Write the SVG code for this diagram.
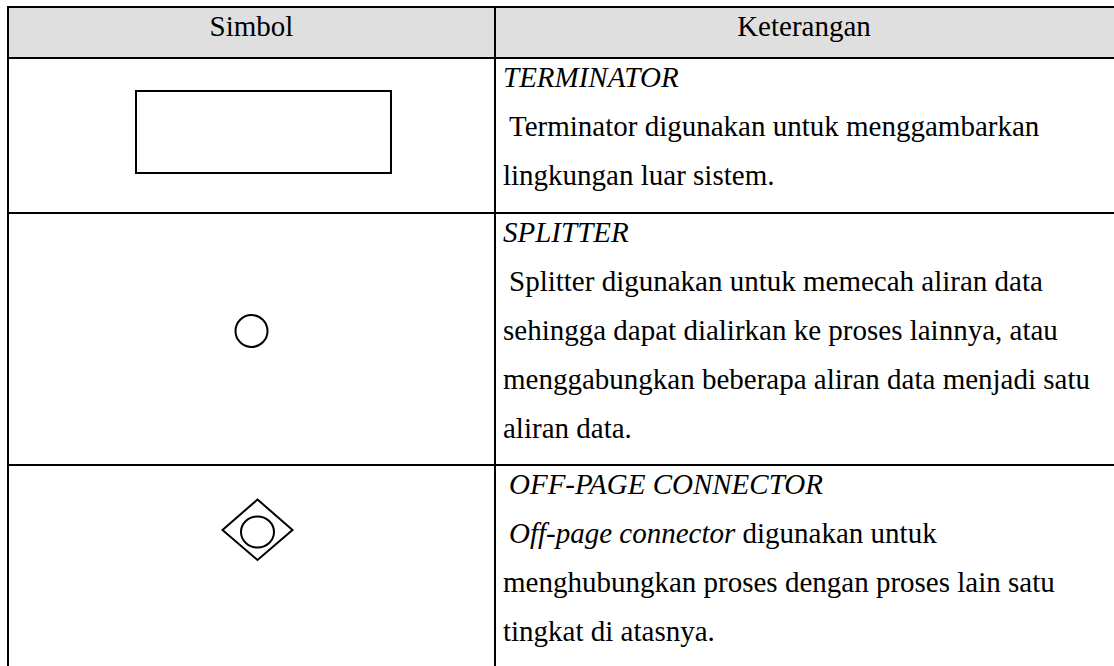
<svg xmlns="http://www.w3.org/2000/svg" width="1114" height="666" viewBox="0 0 1114 666">
<style>
.t{font-family:'Liberation Serif','Times New Roman',serif;font-size:29px;fill:#000}
.i{font-style:italic}
.g{stroke:#000;stroke-width:2;fill:none}
.s{stroke:#000;stroke-width:2;fill:none}
</style>
<rect x="0" y="0" width="1114" height="666" fill="#fff"/>
<g id="grid">
<rect x="8" y="7" width="1110" height="51" fill="#dfdfdf"/>
<line class="g" x1="7" y1="7" x2="1114" y2="7"/>
<line class="g" x1="7" y1="58" x2="1114" y2="58"/>
<line class="g" x1="7" y1="213" x2="1114" y2="213"/>
<line class="g" x1="7" y1="465" x2="1114" y2="465"/>
<line class="g" x1="8" y1="6" x2="8" y2="666"/>
<line class="g" x1="495" y1="6" x2="495" y2="666"/>
</g>
<g id="header">
<text class="t" x="251.5" y="36" text-anchor="middle">Simbol</text>
<text class="t" x="804" y="36" text-anchor="middle">Keterangan</text>
</g>
<g id="terminator">
<rect class="s" x="136" y="91" width="255" height="82"/>
<text class="t i" x="503" y="87">TERMINATOR</text>
<text class="t" x="509" y="136">Terminator digunakan untuk menggambarkan</text>
<text class="t" x="503" y="185">lingkungan luar sistem.</text>
</g>
<g id="splitter">
<circle class="s" cx="251.5" cy="331" r="16"/>
<text class="t i" x="503" y="242">SPLITTER</text>
<text class="t" x="509" y="291">Splitter digunakan untuk memecah aliran data</text>
<text class="t" x="503" y="340">sehingga dapat dialirkan ke proses lainnya, atau</text>
<text class="t" x="503" y="389">menggabungkan beberapa aliran data menjadi satu</text>
<text class="t" x="503" y="438">aliran data.</text>
</g>
<g id="offpage">
<polygon class="s" points="257.5,499.5 292.5,530 257.5,560 222.5,530"/>
<ellipse class="s" cx="257.5" cy="532" rx="16.5" ry="15.5"/>
<text class="t i" x="509" y="494">OFF-PAGE CONNECTOR</text>
<text class="t" x="509" y="543"><tspan class="i">Off-page connector</tspan> digunakan untuk</text>
<text class="t" x="503" y="592">menghubungkan proses dengan proses lain satu</text>
<text class="t" x="503" y="641">tingkat di atasnya.</text>
</g>
</svg>
